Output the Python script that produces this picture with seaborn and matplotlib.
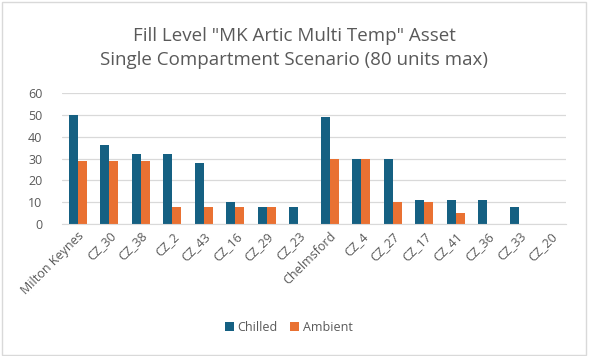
import numpy as np
import pandas as pd
import matplotlib
matplotlib.use('Agg')
import matplotlib.pyplot as plt
from matplotlib.patches import Rectangle
import seaborn as sns

# Data
sites = ['Milton Keynes', 'CZ_30', 'CZ_38', 'CZ_2', 'CZ_43', 'CZ_16', 'CZ_29', 'CZ_23',
         'Chelmsford', 'CZ_4', 'CZ_27', 'CZ_17', 'CZ_41', 'CZ_36', 'CZ_33', 'CZ_20']
chilled = [50, 36, 32, 32, 28, 10, 8, 8, 49, 30, 30, 11, 11, 11, 8, 0]
ambient = [29, 29, 29, 8, 8, 8, 8, 0, 30, 30, 10, 10, 5, 0, 0, 0]
series = ['Chilled', 'Ambient']
colors = ['#156082', '#E97132']
y_ticks = [0, 10, 20, 30, 40, 50, 60]

df = pd.DataFrame({'site': sites, 'Chilled': chilled, 'Ambient': ambient})
df = df.melt(id_vars='site', var_name='series', value_name='units')

sns.set_style('white')
plt.rcParams['font.family'] = ['Open Sans', 'DejaVu Sans']
text_grey = '#595959'

fig = plt.figure(figsize=(5.89, 3.56), dpi=100)
ax = fig.add_axes([62 / 589, 1 - 224 / 356, (566 - 62) / 589, (224 - 93) / 356])

sns.barplot(data=df, x='site', y='units', hue='series', hue_order=series,
            palette=colors, width=0.58, ax=ax, saturation=1, linewidth=0, legend=True)

ax.set_ylim(0, 60)
ax.set_xlim(-0.5, len(sites) - 0.5)
ax.set_yticks(y_ticks)
ax.yaxis.grid(True, color='#d9d9d9', linewidth=0.9)
ax.set_axisbelow(True)
for s in ['top', 'right', 'left']:
    ax.spines[s].set_visible(False)
ax.spines['bottom'].set_color('#d9d9d9')
ax.set_xlabel('')
ax.set_ylabel('')
ax.tick_params(axis='both', length=0, colors=text_grey, labelsize=9)
ax.tick_params(axis='y', pad=14)
ax.tick_params(axis='x', pad=4)
plt.setp(ax.get_xticklabels(), rotation=45, ha='right', rotation_mode='anchor')

ax.legend(loc='center', bbox_to_anchor=(0.45, -0.79), ncol=2, frameon=False,
          fontsize=9, handlelength=0.7, handleheight=0.7, handletextpad=0.3,
          columnspacing=1.0, labelcolor=text_grey)

fig.text(0.5, 1 - 48 / 356, 'Fill Level "MK Artic Multi Temp" Asset\nSingle Compartment Scenario (80 units max)',
         ha='center', va='center', fontsize=13.5, color=text_grey, linespacing=1.45)

# chart border
fig.patches.append(Rectangle((0.003, 0.004), 0.992, 0.99, transform=fig.transFigure,
                             fill=False, edgecolor='#d9d9d9', linewidth=1))

fig.savefig('out.png', dpi=100)
